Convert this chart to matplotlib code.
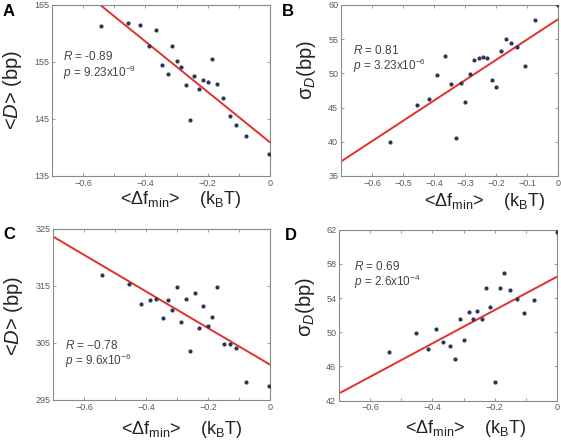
import matplotlib
matplotlib.use('Agg')
import matplotlib.pyplot as plt
import numpy as np

plt.rcParams['font.family'] = ['Liberation Sans', 'DejaVu Sans']
plt.rcParams['mathtext.fontset'] = 'custom'
plt.rcParams['mathtext.rm'] = 'Liberation Sans'
plt.rcParams['mathtext.it'] = 'Liberation Sans:italic'
plt.rcParams['mathtext.bf'] = 'Liberation Sans:bold'

# Panel A: mean distance vs mean delta f_min
x_a = [-0.542, -0.456, -0.417, -0.366, -0.388, -0.315, -0.347, -0.329, -0.299, -0.285, -0.271, -0.243,
       -0.228, -0.216, -0.200, -0.186, -0.170, -0.152, -0.130, -0.109, -0.076, -0.002, -0.256]
y_a = [161.3, 161.9, 161.4, 160.6, 157.8, 157.8, 154.4, 152.9, 155.1, 154.1, 151.0, 152.5,
       150.3, 151.8, 151.5, 155.5, 151.2, 148.7, 145.5, 144.0, 142.0, 138.8, 144.8]

# Panel B: sigma_D vs mean delta f_min
x_b = [-0.542, -0.454, -0.415, -0.389, -0.365, -0.346, -0.328, -0.314, -0.299, -0.285, -0.270, -0.256,
       -0.242, -0.228, -0.214, -0.199, -0.185, -0.169, -0.151, -0.131, -0.107, -0.075, 0.0]
y_b = [40.0, 45.4, 46.2, 49.7, 52.6, 48.4, 40.6, 48.6, 45.8, 49.9, 52.0, 52.2,
       52.4, 52.2, 49.0, 48.0, 53.3, 55.0, 54.4, 53.8, 51.1, 57.8, 60.0]

# Panel C
x_c = [-0.541, -0.456, -0.415, -0.388, -0.367, -0.346, -0.329, -0.315, -0.299, -0.286, -0.271, -0.257,
       -0.243, -0.228, -0.215, -0.201, -0.187, -0.170, -0.150, -0.130, -0.109, -0.077, -0.004]
y_c = [316.9, 315.4, 311.8, 312.6, 312.7, 309.4, 312.5, 310.8, 314.8, 308.7, 312.7, 303.6,
       313.8, 307.7, 311.4, 308.0, 309.6, 314.9, 304.9, 304.9, 304.1, 298.2, 297.5]

# Panel D
x_d = [-0.540, -0.453, -0.414, -0.389, -0.365, -0.345, -0.329, -0.313, -0.298, -0.284, -0.270, -0.256,
       -0.242, -0.227, -0.214, -0.199, -0.184, -0.169, -0.150, -0.129, -0.106, -0.073, 0.0]
y_d = [47.7, 49.9, 48.0, 50.4, 48.9, 48.4, 46.9, 51.6, 49.1, 52.4, 51.5, 52.5,
       51.5, 55.2, 52.9, 44.2, 55.2, 56.9, 55.0, 53.9, 52.2, 53.8, 61.7]

# Fitted lines (slope, intercept)
fit_a = (-44.2, 140.9)
fit_b = (29.7, 57.9)
fit_c = (-32.1, 301.2)
fit_d = (19.5, 56.5)

# Stats text
r_text = ['-0.89', '0.81', '\u22120.78', '0.69']
p_mant = ['9.23', '3.23', '9.6', '2.6']
p_exp = ['-9', '-6', '-6', '-4']

# Axis ticks
yticks_a = [135, 145, 155, 165]
yticks_b = [35, 40, 45, 50, 55, 60]
yticks_c = [295, 305, 315, 325]
yticks_d = [42, 46, 50, 54, 58, 62]
xticks = [-0.7, -0.6, -0.5, -0.4, -0.3, -0.2, -0.1, 0.0]
xlabels_sparse = ['', '\u22120.6', '', '\u22120.4', '', '\u22120.2', '', '0']
xlabels_full = ['', '\u22120.6', '\u22120.5', '\u22120.4', '\u22120.3', '\u22120.2', '\u22120.1', '0']

ylabel_mean = '<$\\mathit{D}$> (bp)'
ylabel_sigma = '\u03c3$_{\\mathit{D}}$(bp)'
xlabel = '<\u0394f$_{\\mathrm{min}}$>    (k$_{\\mathrm{B}}$T)'

SPINE = '#8a8a8a'
TICKC = '#5a5a5a'


def plot_panel(ax, x, y, fit, yticks, xlabels, ylab, ylab_pos, xlab_pos, txt_pos, i):
    # Scatter points and the regression line
    ax.scatter(x, y, s=9, color='#2b3757', zorder=3, linewidths=0)
    xx = np.array([-0.7, 0.0])
    ax.plot(xx, fit[0] * xx + fit[1], color='#e2302c', lw=1.4, zorder=2)

    ax.set_xlim(-0.7, 0)
    ax.set_ylim(yticks[0], yticks[-1])
    ax.set_xticks(xticks)
    ax.set_xticklabels(xlabels)
    ax.set_yticks(yticks)
    ax.tick_params(direction='in', length=2.5, width=0.6, color=SPINE, labelsize=6.5,
                   labelcolor=TICKC, top=True, right=True, pad=2)
    for s in ax.spines.values():
        s.set_color(SPINE)
        s.set_linewidth(0.8)

    # Labels
    ax.text(ylab_pos[0], ylab_pos[1], ylab, transform=ax.transAxes, rotation=90,
            ha='center', va='center', fontsize=14.5, color='#222222')
    ax.text(xlab_pos[0], xlab_pos[1], xlabel, transform=ax.transAxes,
            ha='center', va='center', fontsize=13, color='#222222')

    # Stats
    ax.text(txt_pos[0], txt_pos[1], '$R$ = ' + r_text[i], transform=ax.transAxes,
            ha='left', va='center', fontsize=8.5, color='#444444')
    ax.text(txt_pos[0], txt_pos[2], '$p$ = ' + p_mant[i] + 'x10$^{' + p_exp[i] + '}$',
            transform=ax.transAxes, ha='left', va='center', fontsize=8.5, color='#444444')


fig = plt.figure(figsize=(5.61, 4.41), dpi=100)

ax_a = fig.add_axes([0.0927, 0.601, 0.3886, 0.3878])
ax_b = fig.add_axes([0.6078, 0.601, 0.3868, 0.3878])
ax_c = fig.add_axes([0.0945, 0.093, 0.3868, 0.3878])
ax_d = fig.add_axes([0.6043, 0.0914, 0.3886, 0.3878])

plot_panel(ax_a, x_a, y_a, fit_a, yticks_a, xlabels_sparse, ylabel_mean,
           (-0.18, 0.50), (0.59, -0.14), (0.05, 0.70, 0.60), 0)
plot_panel(ax_b, x_b, y_b, fit_b, yticks_b, xlabels_full, ylabel_sigma,
           (-0.16, 0.62), (0.66, -0.15), (0.054, 0.735, 0.645), 1)
plot_panel(ax_c, x_c, y_c, fit_c, yticks_c, xlabels_sparse, ylabel_mean,
           (-0.184, 0.49), (0.59, -0.17), (0.055, 0.32, 0.23), 2)
plot_panel(ax_d, x_d, y_d, fit_d, yticks_d, xlabels_sparse, ylabel_sigma,
           (-0.156, 0.55), (0.58, -0.165), (0.07, 0.785, 0.695), 3)

# Panel letters
for lbl, px, py in [('A', 0.016, 0.975), ('B', 0.513, 0.975), ('C', 0.016, 0.469), ('D', 0.519, 0.467)]:
    fig.text(px, py, lbl, fontsize=12, fontweight='bold', ha='center', va='center')

plt.savefig('out.png', dpi=100)
